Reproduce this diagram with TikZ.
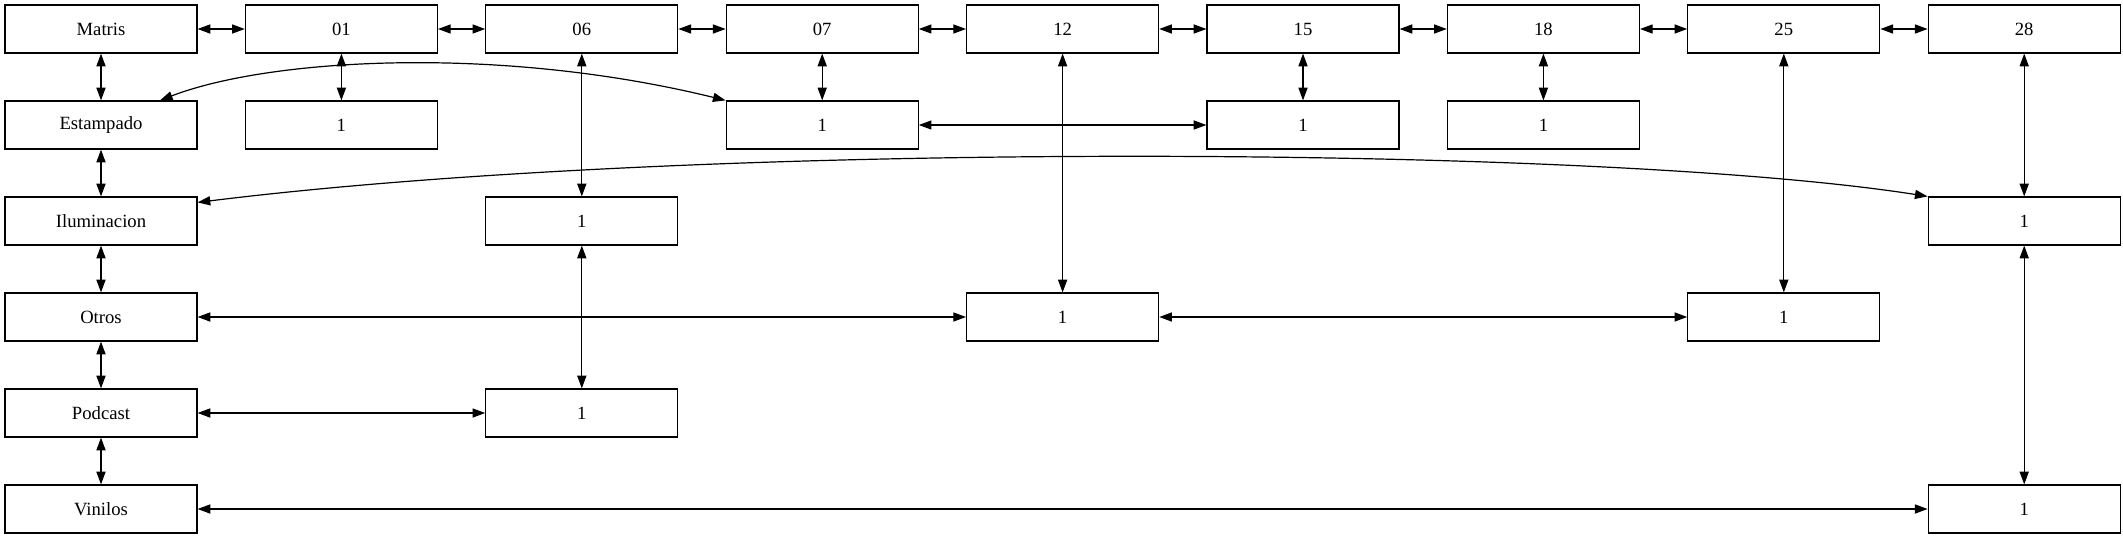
\documentclass[tikz,border=0pt]{standalone}
\usepackage{fontspec}
\setmainfont{Liberation Serif}
\usetikzlibrary{arrows.meta}
\begin{document}
\begin{tikzpicture}[x=0.75pt,y=-0.75pt,
 box/.style={draw,line width=0.9pt,minimum width=144pt,minimum height=36pt,inner sep=0pt,font=\fontsize{14}{16}\selectfont},
 link/.style={line width=0.9pt,{Triangle[length=9.5pt,width=6.8pt]}-{Triangle[length=9.5pt,width=6.8pt]}}]
\useasboundingbox (0,0) rectangle (2123,539);
% row 0
\node[box] (m)   at (101,29)    {Matris};
\node[box] (c01) at (341.4,29)  {01};
\node[box] (c06) at (581.8,29)  {06};
\node[box] (c07) at (822.2,29)  {07};
\node[box] (c12) at (1062.6,29) {12};
\node[box] (c15) at (1303,29)   {15};
\node[box] (c18) at (1543.4,29) {18};
\node[box] (c25) at (1783.8,29) {25};
\node[box] (c28) at (2024.2,29) {28};
% row 1
\node[box] (est) at (101,125)    {Estampado};
\node[box] (a01) at (341.4,125)  {1};
\node[box] (a07) at (822.2,125)  {1};
\node[box] (a15) at (1303,125)   {1};
\node[box] (a18) at (1543.4,125) {1};
% row 2
\node[box] (ilu) at (101,221)    {Iluminacion};
\node[box] (b06) at (581.8,221)  {1};
\node[box] (b28) at (2024.2,221) {1};
% row 3
\node[box] (otr) at (101,317)    {Otros};
\node[box] (d12) at (1062.6,317) {1};
\node[box] (d25) at (1783.8,317) {1};
% row 4
\node[box] (pod) at (101,413)    {Podcast};
\node[box] (e06) at (581.8,413)  {1};
% row 5
\node[box] (vin) at (101,509)    {Vinilos};
\node[box] (f28) at (2024.2,509) {1};
% top chain
\draw[link] (m) -- (c01);
\draw[link] (c01) -- (c06);
\draw[link] (c06) -- (c07);
\draw[link] (c07) -- (c12);
\draw[link] (c12) -- (c15);
\draw[link] (c15) -- (c18);
\draw[link] (c18) -- (c25);
\draw[link] (c25) -- (c28);
% left chain
\draw[link] (m) -- (est);
\draw[link] (est) -- (ilu);
\draw[link] (ilu) -- (otr);
\draw[link] (otr) -- (pod);
\draw[link] (pod) -- (vin);
% verticals
\draw[link] (c01) -- (a01);
\draw[link] (c06) -- (b06);
\draw[link] (c07) -- (a07);
\draw[link] (c12) -- (d12);
\draw[link] (c15) -- (a15);
\draw[link] (c18) -- (a18);
\draw[link] (c25) -- (d25);
\draw[link] (c28) -- (b28);
\draw[link] (b28) -- (f28);
\draw[link] (b06) -- (e06);
% horizontals
\draw[link] (a07) -- (a15);
\draw[link] (otr) -- (d12);
\draw[link] (d12) -- (d25);
\draw[link] (pod) -- (e06);
\draw[link] (vin) -- (f28);
% curves
\draw[link] ([xshift=44.25pt]est.north) .. controls (270,58) and (500,45) .. (a07.north west);
\draw[link] ([yshift=-4.5pt]ilu.north east) .. controls (700,140) and (1600,145) .. (b28.north west);
\end{tikzpicture}
\end{document}
